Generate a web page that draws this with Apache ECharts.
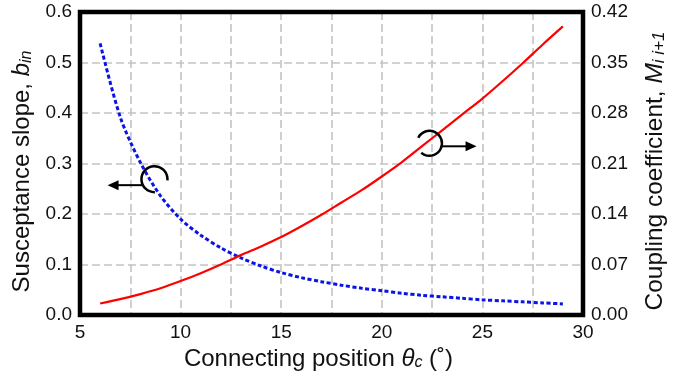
<!DOCTYPE html>
<html>
<head>
<meta charset="utf-8">
<script src="https://cdn.jsdelivr.net/npm/echarts/dist/echarts.min.js"></script>
<style>
  html, body { margin: 0; padding: 0; background: #fff; }
  #chart { width: 685px; height: 380px; }
</style>
</head>
<body>
<div id="chart"></div>
<script>
// Connecting position θc in degrees
const theta = [6, 7, 8, 9, 10, 11, 12, 13, 14, 15, 16, 17, 18, 19, 20, 21, 22, 23, 24, 25, 26, 27, 28, 29];
// Susceptance slope b_in (left axis)
const susceptance = [0.538, 0.392, 0.302, 0.236, 0.190, 0.158, 0.133, 0.113, 0.097, 0.084, 0.074, 0.066,
                     0.059, 0.053, 0.048, 0.043, 0.039, 0.036, 0.033, 0.030, 0.028, 0.026, 0.024, 0.022];
// Coupling coefficient M_{i i+1} (right axis)
const coupling = [0.016, 0.022, 0.029, 0.037, 0.047, 0.058, 0.070, 0.083, 0.095, 0.108, 0.123, 0.139,
                  0.156, 0.173, 0.192, 0.212, 0.234, 0.256, 0.278, 0.300, 0.324, 0.349, 0.375, 0.400];
// Axis ranges
const xRange = [5, 30, 2.5];
const leftRange = [0, 0.6, 0.1];
const rightRange = [0, 0.42, 0.07];

const FONT = "'Liberation Sans', Arial, Helvetica, sans-serif";

const chart = echarts.init(document.getElementById('chart'), null, { renderer: 'canvas' });

const gridLine = { show: true, lineStyle: { color: '#c4c4c4', width: 1.6, type: [8, 4] } };

function titleStyle(size, subSize, padding) {
  return {
    color: '#111', fontSize: size, fontFamily: FONT, padding: padding,
    rich: {
      it: { fontSize: size, fontStyle: 'italic', fontFamily: FONT, color: '#111' },
      sub: { fontSize: subSize, fontStyle: 'italic', fontFamily: FONT, color: '#111', verticalAlign: 'bottom', lineHeight: subSize + 1 },
      n: { fontSize: size, fontFamily: FONT, color: '#111' }
    }
  };
}

chart.setOption({
  animation: false,
  backgroundColor: '#fff',
  textStyle: { fontFamily: FONT },
  grid: { left: 80, right: 102, top: 12, bottom: 65 },
  xAxis: {
    type: 'value', min: xRange[0], max: xRange[1], interval: xRange[2],
    axisLine: { show: false }, axisTick: { show: false },
    splitLine: gridLine,
    axisLabel: {
      color: '#111', fontSize: 19, fontFamily: FONT, margin: 8,
      formatter: v => (v % 5 === 0 ? String(v) : '')
    },
    name: 'Connecting position {it|θ}{sub|c}{n| (˚)}',
    nameLocation: 'middle', nameGap: 25,
    nameTextStyle: titleStyle(24, 16, [0, 26, 0, 0])
  },
  yAxis: [
    {
      type: 'value', position: 'left', min: leftRange[0], max: leftRange[1], interval: leftRange[2],
      axisLine: { show: false }, axisTick: { show: false },
      splitLine: gridLine,
      axisLabel: { color: '#111', fontSize: 19, fontFamily: FONT, margin: 8, formatter: v => v.toFixed(1) },
      name: 'Susceptance slope, {it|b}{sub|in}',
      nameLocation: 'middle', nameRotate: 90, nameGap: 41,
      nameTextStyle: titleStyle(24, 16, [0, 16, 0, 0])
    },
    {
      type: 'value', position: 'right', min: rightRange[0], max: rightRange[1], interval: rightRange[2],
      axisLine: { show: false }, axisTick: { show: false },
      splitLine: { show: false },
      axisLabel: { color: '#111', fontSize: 19, fontFamily: FONT, margin: 8, formatter: v => v.toFixed(2) },
      name: 'Coupling coefficient, {it|M}{sub|i i+1}',
      nameLocation: 'middle', nameRotate: 90, nameGap: 60,
      nameTextStyle: titleStyle(24.5, 17, [0, 15, 0, 0])
    }
  ],
  series: [
    {
      name: 'Susceptance slope',
      type: 'line', yAxisIndex: 0, smooth: 0.3,
      showSymbol: false,
      lineStyle: { color: '#0a14e6', width: 3, type: [4, 2.5] },
      data: theta.map((t, i) => [t, susceptance[i]])
    },
    {
      name: 'Coupling coefficient',
      type: 'line', yAxisIndex: 1, smooth: 0.3,
      showSymbol: false,
      lineStyle: { color: '#f00', width: 2.2 },
      data: theta.map((t, i) => [t, coupling[i]])
    }
  ]
});

const toPx = p => chart.convertToPixel({ gridIndex: 0 }, p);
const deg = a => a * Math.PI / 180;

// Curve markers: an open circle around each curve with an arrow pointing to its axis.
function marker(center, r, gapFrom, gapTo, arrowTipX, arrowDy) {
  const c = toPx(center);
  const tip = toPx([arrowTipX, center[1]])[0];
  const y = c[1] + arrowDy;
  const dir = tip < c[0] ? -1 : 1;
  const startX = c[0] + dir * Math.sqrt(r * r - arrowDy * arrowDy);
  const headLen = 11, headHalf = 5;
  return [
    {
      type: 'arc', silent: true, z: 50,
      shape: { cx: c[0], cy: c[1], r: r, startAngle: deg(gapTo), endAngle: deg(gapFrom + 360), clockwise: true },
      style: { stroke: '#000', lineWidth: 2.5, fill: null }
    },
    {
      type: 'line', silent: true, z: 50,
      shape: { x1: startX, y1: y, x2: tip - dir * (headLen - 1), y2: y },
      style: { stroke: '#000', lineWidth: 2 }
    },
    {
      type: 'polygon', silent: true, z: 50,
      shape: { points: [[tip, y], [tip - dir * headLen, y - headHalf], [tip - dir * headLen, y + headHalf]] },
      style: { fill: '#000' }
    }
  ];
}

// Heavy black frame around the plotting area
const lo = toPx([xRange[0], leftRange[0]]);
const hi = toPx([xRange[1], leftRange[1]]);

chart.setOption({
  graphic: [
    {
      type: 'rect', silent: true, z: 60,
      shape: { x: lo[0], y: hi[1], width: hi[0] - lo[0], height: lo[1] - hi[1] },
      style: { stroke: '#000', lineWidth: 4.5, fill: null }
    },
    ...marker([8.70, 0.269], 13, 5, 88, 6.37, 6),
    ...marker([22.37, 0.340], 12.5, 131, 206, 24.71, 3)
  ]
});
</script>
</body>
</html>
